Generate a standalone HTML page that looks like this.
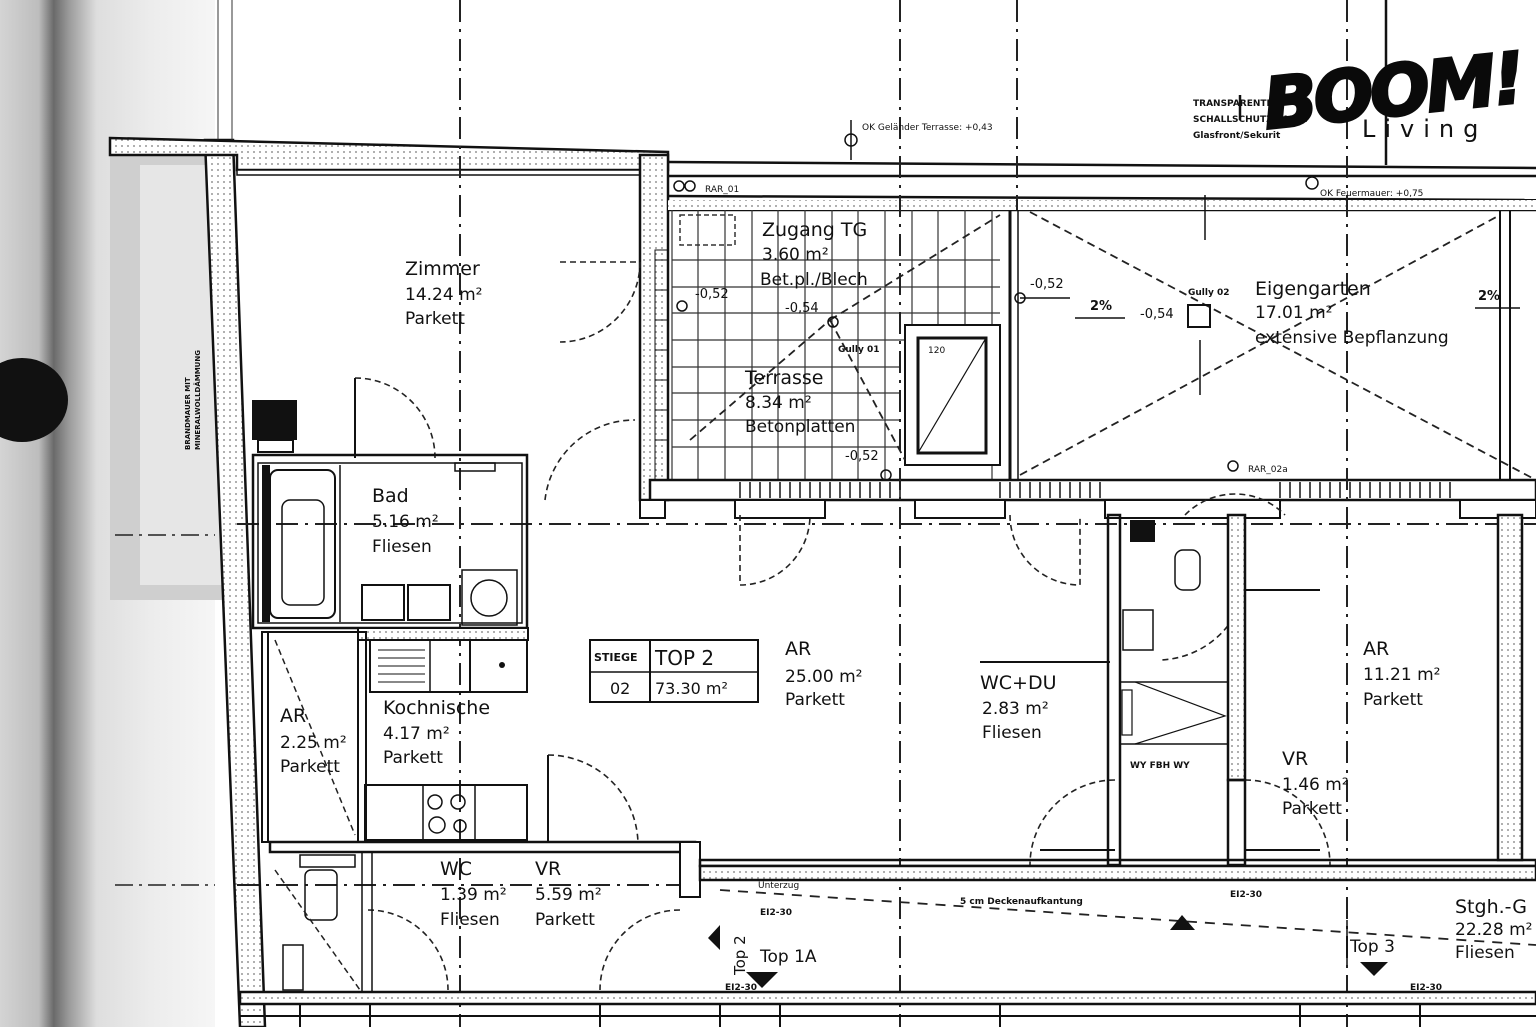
<!DOCTYPE html>
<html><head><meta charset="utf-8"><style>
html,body{margin:0;padding:0;background:#fff;}
svg{display:block}
text{font-family:"DejaVu Sans","Liberation Sans",sans-serif;fill:#111}
</style></head><body>
<svg width="1536" height="1027" viewBox="0 0 1536 1027" xmlns="http://www.w3.org/2000/svg">
<defs>
<linearGradient id="lg" x1="0" x2="1" y1="0" y2="0">
<stop offset="0" stop-color="#d4d4d4"/>
<stop offset="0.18" stop-color="#bdbdbd"/>
<stop offset="0.25" stop-color="#6a6a6a"/>
<stop offset="0.32" stop-color="#9a9a9a"/>
<stop offset="0.45" stop-color="#dedede"/>
<stop offset="0.7" stop-color="#ececec"/>
<stop offset="1" stop-color="#f6f6f6"/>
</linearGradient>
<pattern id="hat" width="6" height="6" patternUnits="userSpaceOnUse"><rect width="6" height="6" fill="#fff"/><circle cx="2" cy="2" r="0.9" fill="#777"/></pattern>
</defs>
<rect x="0" y="0" width="215" height="1027" fill="url(#lg)"/>
<rect x="110" y="140" width="115" height="460" fill="#cfcfcf"/>
<rect x="140" y="165" width="85" height="420" fill="#e6e6e6"/>
<text x="0" y="0" transform="translate(190,450) rotate(-90)" font-size="7" font-weight="bold">BRANDMAUER MIT</text>
<text x="0" y="0" transform="translate(200,450) rotate(-90)" font-size="7" font-weight="bold">MINERALWOLLDÄMMUNG</text>
<ellipse cx="22" cy="400" rx="46" ry="42" fill="#111"/>
<g stroke="#222" stroke-width="1.5" stroke-dasharray="18,6,3,6" fill="none">
<line x1="115" y1="535" x2="215" y2="535"/>
<line x1="115" y1="885" x2="215" y2="885"/>
</g>

<polygon points="205,140 233,140 265,1027 240,1027" fill="url(#hat)" stroke="#111" stroke-width="2.5"/>
<line x1="218" y1="0" x2="218" y2="140" stroke="#333" stroke-width="1"/>
<line x1="232" y1="0" x2="232" y2="140" stroke="#333" stroke-width="1"/>
<polygon points="110,138 668,152 668,170 237,170 237,155 110,155" fill="url(#hat)" stroke="#111" stroke-width="2.5"/>
<rect x="237" y="170" width="408" height="5" fill="#fff" stroke="#111" stroke-width="1.5"/>
<rect x="640" y="155" width="28" height="345" fill="url(#hat)" stroke="#111" stroke-width="2.5"/>
<rect x="655" y="250" width="13" height="230" fill="none" stroke="#111" stroke-width="1"/>
<g stroke="#111" stroke-width="1"><line x1="655" y1="260" x2="668" y2="260"/><line x1="655" y1="290" x2="668" y2="290"/><line x1="655" y1="320" x2="668" y2="320"/><line x1="655" y1="350" x2="668" y2="350"/><line x1="655" y1="380" x2="668" y2="380"/><line x1="655" y1="410" x2="668" y2="410"/><line x1="655" y1="440" x2="668" y2="440"/></g>

<g stroke="#111" stroke-width="2.5" fill="none">
<line x1="668" y1="162" x2="1536" y2="168"/>
<line x1="668" y1="176" x2="1536" y2="176"/>
<line x1="668" y1="196" x2="1536" y2="200"/>
<line x1="668" y1="210" x2="1536" y2="210"/>
<line x1="1386" y1="0" x2="1386" y2="165"/>
<line x1="1240" y1="95" x2="1240" y2="120"/>
</g>
<rect x="668" y="200" width="868" height="10" fill="url(#hat)"/>
<g stroke="#333" stroke-width="1.2">
<line x1="672" y1="210" x2="672" y2="480"/><line x1="698" y1="210" x2="698" y2="480"/><line x1="725" y1="210" x2="725" y2="480"/><line x1="752" y1="210" x2="752" y2="480"/><line x1="778" y1="210" x2="778" y2="480"/><line x1="805" y1="210" x2="805" y2="480"/><line x1="832" y1="210" x2="832" y2="480"/><line x1="858" y1="210" x2="858" y2="480"/><line x1="885" y1="210" x2="885" y2="480"/><line x1="912" y1="210" x2="912" y2="330"/><line x1="938" y1="210" x2="938" y2="330"/><line x1="965" y1="210" x2="965" y2="330"/><line x1="992" y1="210" x2="992" y2="480"/>
<line x1="672" y1="260" x2="1000" y2="260"/><line x1="672" y1="287" x2="1000" y2="287"/><line x1="672" y1="313" x2="1000" y2="313"/><line x1="672" y1="340" x2="1000" y2="340"/><line x1="672" y1="367" x2="900" y2="367"/><line x1="672" y1="393" x2="900" y2="393"/><line x1="672" y1="420" x2="900" y2="420"/><line x1="672" y1="447" x2="900" y2="447"/>
</g>
<rect x="905" y="325" width="95" height="140" fill="#fff" stroke="#111" stroke-width="2"/>
<rect x="918" y="338" width="68" height="115" fill="none" stroke="#111" stroke-width="3"/>
<line x1="918" y1="453" x2="986" y2="338" stroke="#111" stroke-width="1.2"/>
<text x="928" y="353" font-size="9">120</text>
<rect x="680" y="215" width="55" height="30" fill="none" stroke="#333" stroke-width="1.5" stroke-dasharray="5,3"/>
<line x1="1010" y1="210" x2="1010" y2="480" stroke="#111" stroke-width="3"/>
<line x1="1018" y1="210" x2="1018" y2="480" stroke="#111" stroke-width="1.5"/>
<line x1="1500" y1="210" x2="1500" y2="480" stroke="#111" stroke-width="2"/>
<line x1="1510" y1="210" x2="1510" y2="480" stroke="#111" stroke-width="2"/>
<g stroke="#222" stroke-width="1.8" stroke-dasharray="8,5" fill="none">
<line x1="1030" y1="212" x2="1536" y2="480"/>
<line x1="1020" y1="475" x2="1500" y2="215"/>
<line x1="690" y1="440" x2="830" y2="320"/>
<line x1="830" y1="320" x2="1000" y2="215"/>
<line x1="830" y1="320" x2="905" y2="460"/>
</g>
<rect x="1188" y="305" width="22" height="22" fill="none" stroke="#111" stroke-width="2"/>
<g stroke="#111" stroke-width="1.5" fill="none">
<line x1="1075" y1="318" x2="1125" y2="318"/><line x1="1475" y1="308" x2="1520" y2="308"/>
<line x1="1200" y1="340" x2="1200" y2="395"/><line x1="1205" y1="195" x2="1205" y2="240"/>
<line x1="1020" y1="298" x2="1070" y2="298"/>
<circle cx="1020" cy="298" r="5"/><circle cx="1312" cy="183" r="6"/><circle cx="851" cy="140" r="6"/><circle cx="682" cy="306" r="5"/><circle cx="833" cy="322" r="5"/><circle cx="886" cy="475" r="5"/><circle cx="1233" cy="466" r="5"/><circle cx="679" cy="186" r="5"/><circle cx="690" cy="186" r="5"/>
<line x1="851" y1="120" x2="851" y2="160"/>
</g>
<rect x="650" y="480" width="886" height="20" fill="#fff" stroke="#111" stroke-width="2.5"/>
<g stroke="#111" stroke-width="1.5">
<line x1="740" y1="482" x2="740" y2="498"/><line x1="750" y1="482" x2="750" y2="498"/><line x1="760" y1="482" x2="760" y2="498"/><line x1="770" y1="482" x2="770" y2="498"/><line x1="780" y1="482" x2="780" y2="498"/><line x1="790" y1="482" x2="790" y2="498"/><line x1="800" y1="482" x2="800" y2="498"/><line x1="810" y1="482" x2="810" y2="498"/><line x1="820" y1="482" x2="820" y2="498"/><line x1="830" y1="482" x2="830" y2="498"/><line x1="840" y1="482" x2="840" y2="498"/><line x1="850" y1="482" x2="850" y2="498"/><line x1="860" y1="482" x2="860" y2="498"/><line x1="870" y1="482" x2="870" y2="498"/><line x1="880" y1="482" x2="880" y2="498"/><line x1="890" y1="482" x2="890" y2="498"/><line x1="900" y1="482" x2="900" y2="498"/>
<line x1="1000" y1="482" x2="1000" y2="498"/><line x1="1010" y1="482" x2="1010" y2="498"/><line x1="1020" y1="482" x2="1020" y2="498"/><line x1="1030" y1="482" x2="1030" y2="498"/><line x1="1040" y1="482" x2="1040" y2="498"/><line x1="1050" y1="482" x2="1050" y2="498"/><line x1="1060" y1="482" x2="1060" y2="498"/><line x1="1070" y1="482" x2="1070" y2="498"/><line x1="1080" y1="482" x2="1080" y2="498"/><line x1="1090" y1="482" x2="1090" y2="498"/><line x1="1100" y1="482" x2="1100" y2="498"/>
<line x1="1280" y1="482" x2="1280" y2="498"/><line x1="1290" y1="482" x2="1290" y2="498"/><line x1="1300" y1="482" x2="1300" y2="498"/><line x1="1310" y1="482" x2="1310" y2="498"/><line x1="1320" y1="482" x2="1320" y2="498"/><line x1="1330" y1="482" x2="1330" y2="498"/><line x1="1340" y1="482" x2="1340" y2="498"/><line x1="1350" y1="482" x2="1350" y2="498"/><line x1="1360" y1="482" x2="1360" y2="498"/><line x1="1370" y1="482" x2="1370" y2="498"/><line x1="1380" y1="482" x2="1380" y2="498"/><line x1="1390" y1="482" x2="1390" y2="498"/><line x1="1400" y1="482" x2="1400" y2="498"/><line x1="1410" y1="482" x2="1410" y2="498"/><line x1="1420" y1="482" x2="1420" y2="498"/><line x1="1430" y1="482" x2="1430" y2="498"/><line x1="1440" y1="482" x2="1440" y2="498"/><line x1="1450" y1="482" x2="1450" y2="498"/>
</g>
<g fill="#fff" stroke="#111" stroke-width="2">
<rect x="640" y="500" width="25" height="18"/>
<rect x="735" y="500" width="90" height="18"/><rect x="915" y="500" width="90" height="18"/><rect x="1105" y="500" width="175" height="18"/><rect x="1460" y="500" width="76" height="18"/>
</g>
<g stroke="#222" stroke-width="2" stroke-dasharray="22,7,3,7" fill="none">
<line x1="460" y1="0" x2="460" y2="1027"/>
<line x1="900" y1="0" x2="900" y2="1027"/>
<line x1="1017" y1="0" x2="1017" y2="210"/>
<line x1="1347" y1="0" x2="1347" y2="1027"/>
<line x1="237" y1="524" x2="1536" y2="524"/>
<line x1="237" y1="885" x2="700" y2="885"/>
</g>
<g stroke="#222" stroke-width="1.6" fill="none" stroke-dasharray="6,4">
<path d="M560,262 L640,262 A80,80 0 0 1 560,342"/>
<path d="M355,378 A80,80 0 0 1 435,458"/>
<path d="M545,500 A90,90 0 0 1 635,420"/>
<path d="M740,515 L740,585 A70,70 0 0 0 810,515"/>
<path d="M1010,515 A70,70 0 0 0 1080,585 L1080,515"/>
<path d="M1245,590 A90,90 0 0 1 1160,660"/>
<path d="M1185,515 A70,70 0 0 1 1285,515"/>
<path d="M548,755 A90,90 0 0 1 638,845"/>
<path d="M368,910 A80,80 0 0 1 448,990"/>
<path d="M680,910 A80,80 0 0 0 600,990"/>
<path d="M1115,780 A85,85 0 0 0 1030,865"/>
<path d="M1245,780 A85,85 0 0 1 1330,865"/>
</g>
<g stroke="#111" stroke-width="2"><line x1="355" y1="378" x2="355" y2="458"/><line x1="548" y1="755" x2="548" y2="845"/><line x1="1040" y1="850" x2="1115" y2="850"/><line x1="1245" y1="850" x2="1320" y2="850"/><line x1="1245" y1="590" x2="1320" y2="590"/></g>

<rect x="252" y="400" width="45" height="40" fill="#111"/>
<rect x="258" y="440" width="35" height="12" fill="#fff" stroke="#111" stroke-width="2"/>
<rect x="253" y="455" width="274" height="173" fill="none" stroke="#111" stroke-width="2.5"/>
<rect x="258" y="463" width="264" height="160" fill="none" stroke="#111" stroke-width="1.5"/>
<rect x="262" y="465" width="8" height="157" fill="#111"/>
<rect x="270" y="470" width="65" height="148" rx="8" fill="none" stroke="#111" stroke-width="2"/>
<rect x="282" y="500" width="42" height="105" rx="8" fill="none" stroke="#111" stroke-width="1.5"/>
<line x1="340" y1="465" x2="340" y2="622" stroke="#111" stroke-width="1.5"/>
<rect x="362" y="585" width="42" height="35" fill="none" stroke="#111" stroke-width="2"/>
<rect x="408" y="585" width="42" height="35" fill="none" stroke="#111" stroke-width="2"/>
<rect x="462" y="570" width="55" height="55" fill="none" stroke="#111" stroke-width="1.5"/>
<circle cx="489" cy="598" r="18" fill="none" stroke="#111" stroke-width="1.5"/>
<rect x="455" y="463" width="40" height="8" fill="none" stroke="#111" stroke-width="1.5"/>
<rect x="358" y="628" width="170" height="12" fill="url(#hat)" stroke="#111" stroke-width="2"/>
<rect x="370" y="640" width="100" height="52" fill="none" stroke="#111" stroke-width="2"/>
<line x1="430" y1="640" x2="430" y2="692" stroke="#111" stroke-width="1.5"/>
<rect x="470" y="640" width="57" height="52" fill="none" stroke="#111" stroke-width="2"/>
<g stroke="#111" stroke-width="1"><line x1="378" y1="650" x2="425" y2="650"/><line x1="378" y1="658" x2="425" y2="658"/><line x1="378" y1="666" x2="425" y2="666"/><line x1="378" y1="674" x2="425" y2="674"/><line x1="378" y1="682" x2="425" y2="682"/></g>
<circle cx="502" cy="665" r="3" fill="#111"/>
<rect x="365" y="785" width="162" height="55" fill="none" stroke="#111" stroke-width="2"/>
<line x1="423" y1="785" x2="423" y2="840" stroke="#111" stroke-width="1.5"/><line x1="475" y1="785" x2="475" y2="840" stroke="#111" stroke-width="1.5"/>
<circle cx="435" cy="802" r="7" fill="none" stroke="#111" stroke-width="1.5"/><circle cx="458" cy="802" r="7" fill="none" stroke="#111" stroke-width="1.5"/><circle cx="437" cy="825" r="8" fill="none" stroke="#111" stroke-width="1.5"/><circle cx="460" cy="826" r="6" fill="none" stroke="#111" stroke-width="1.5"/>
<rect x="262" y="632" width="6" height="210" fill="none" stroke="#111" stroke-width="2"/>
<line x1="268" y1="632" x2="358" y2="632" stroke="#111" stroke-width="2"/>
<rect x="358" y="632" width="8" height="210" fill="none" stroke="#111" stroke-width="2"/>
<line x1="275" y1="640" x2="355" y2="835" stroke="#222" stroke-width="1.5" stroke-dasharray="6,4"/>
<rect x="270" y="842" width="425" height="10" fill="#fff" stroke="#111" stroke-width="2.5"/>
<rect x="680" y="842" width="20" height="55" fill="#fff" stroke="#111" stroke-width="2"/>
<rect x="362" y="852" width="10" height="150" fill="none" stroke="#111" stroke-width="1.5"/>
<rect x="300" y="855" width="55" height="12" fill="none" stroke="#111" stroke-width="1.5"/>
<rect x="305" y="870" width="32" height="50" rx="6" fill="none" stroke="#111" stroke-width="1.5"/>
<rect x="283" y="945" width="20" height="45" fill="none" stroke="#111" stroke-width="1.5"/>
<line x1="275" y1="870" x2="360" y2="990" stroke="#222" stroke-width="1.5" stroke-dasharray="6,4"/>
<rect x="700" y="860" width="836" height="6" fill="none" stroke="#111" stroke-width="2.5"/>
<rect x="700" y="866" width="836" height="14" fill="url(#hat)" stroke="#111" stroke-width="2.5"/>
<rect x="1108" y="515" width="12" height="350" fill="none" stroke="#111" stroke-width="2.5"/>
<rect x="1228" y="515" width="17" height="265" fill="url(#hat)" stroke="#111" stroke-width="2.5"/>
<rect x="1228" y="780" width="17" height="85" fill="none" stroke="#111" stroke-width="2.5"/>
<rect x="1130" y="520" width="25" height="22" fill="#111"/>
<rect x="1175" y="550" width="25" height="40" rx="8" fill="none" stroke="#111" stroke-width="1.5"/>
<rect x="1123" y="610" width="30" height="40" fill="none" stroke="#111" stroke-width="1.5"/>
<rect x="1120" y="682" width="108" height="62" fill="none" stroke="#111" stroke-width="1.5"/>
<polyline points="1135,682 1225,716 1135,744" fill="none" stroke="#111" stroke-width="1.2"/>
<rect x="1122" y="690" width="10" height="45" fill="none" stroke="#111" stroke-width="1.2"/>
<line x1="980" y1="662" x2="1110" y2="662" stroke="#111" stroke-width="2"/>
<text x="1130" y="768" font-size="9" font-weight="bold">WY   FBH   WY</text>
<rect x="1498" y="515" width="24" height="345" fill="url(#hat)" stroke="#111" stroke-width="2.5"/>
<rect x="240" y="992" width="1296" height="12" fill="url(#hat)" stroke="#111" stroke-width="2.5"/>
<line x1="240" y1="1016" x2="1536" y2="1016" stroke="#111" stroke-width="2"/>
<g stroke="#111" stroke-width="2"><line x1="300" y1="1004" x2="300" y2="1027"/><line x1="370" y1="1004" x2="370" y2="1027"/><line x1="600" y1="1004" x2="600" y2="1027"/><line x1="720" y1="1004" x2="720" y2="1027"/><line x1="780" y1="1004" x2="780" y2="1027"/><line x1="1000" y1="1004" x2="1000" y2="1027"/><line x1="1300" y1="1004" x2="1300" y2="1027"/><line x1="1420" y1="1004" x2="1420" y2="1027"/></g>
<line x1="720" y1="890" x2="1536" y2="945" stroke="#222" stroke-width="1.8" stroke-dasharray="10,8"/>
<polygon points="1170,930 1182,915 1195,930" fill="#111"/>
<polygon points="746,972 762,988 778,972" fill="#111"/>
<polygon points="1360,962 1374,976 1388,962" fill="#111"/>
<polygon points="720,925 708,938 720,950" fill="#111"/>
<line x1="1347" y1="920" x2="1347" y2="965" stroke="#111" stroke-width="1.5"/>

<rect x="590" y="640" width="168" height="62" fill="none" stroke="#111" stroke-width="2"/>
<line x1="650" y1="640" x2="650" y2="702" stroke="#111" stroke-width="2"/>
<line x1="590" y1="672" x2="758" y2="672" stroke="#111" stroke-width="1.5"/>
<text x="594" y="661" font-size="11" font-weight="bold">STIEGE</text>
<text x="655" y="665" font-size="20">TOP 2</text>
<text x="610" y="694" font-size="16">02</text>
<text x="655" y="694" font-size="16">73.30 m²</text>

<g font-size="19">
<text x="405" y="275">Zimmer</text><text x="405" y="300" font-size="17">14.24 m²</text><text x="405" y="324" font-size="17">Parkett</text>
<text x="762" y="236">Zugang TG</text><text x="762" y="260" font-size="17">3.60 m²</text><text x="760" y="285" font-size="17">Bet.pl./Blech</text>
<text x="745" y="384">Terrasse</text><text x="745" y="408" font-size="17">8.34 m²</text><text x="745" y="432" font-size="17">Betonplatten</text>
<text x="1255" y="295">Eigengarten</text><text x="1255" y="318" font-size="17">17.01 m²</text><text x="1255" y="343" font-size="17">extensive Bepflanzung</text>
<text x="372" y="502">Bad</text><text x="372" y="527" font-size="17">5.16 m²</text><text x="372" y="552" font-size="17">Fliesen</text>
<text x="785" y="655">AR</text><text x="785" y="682" font-size="17">25.00 m²</text><text x="785" y="705" font-size="17">Parkett</text>
<text x="980" y="689">WC+DU</text><text x="982" y="714" font-size="17">2.83 m²</text><text x="982" y="738" font-size="17">Fliesen</text>
<text x="1363" y="655">AR</text><text x="1363" y="680" font-size="17">11.21 m²</text><text x="1363" y="705" font-size="17">Parkett</text>
<text x="1282" y="765">VR</text><text x="1282" y="790" font-size="17">1.46 m²</text><text x="1282" y="814" font-size="17">Parkett</text>
<text x="280" y="722">AR</text><text x="280" y="748" font-size="17">2.25 m²</text><text x="280" y="772" font-size="17">Parkett</text>
<text x="383" y="714">Kochnische</text><text x="383" y="739" font-size="17">4.17 m²</text><text x="383" y="763" font-size="17">Parkett</text>
<text x="440" y="875">WC</text><text x="440" y="900" font-size="17">1.39 m²</text><text x="440" y="925" font-size="17">Fliesen</text>
<text x="535" y="875">VR</text><text x="535" y="900" font-size="17">5.59 m²</text><text x="535" y="925" font-size="17">Parkett</text>
<text x="1455" y="913">Stgh.-G</text><text x="1455" y="935" font-size="17">22.28 m²</text><text x="1455" y="958" font-size="17">Fliesen</text>
<text x="760" y="962" font-size="17">Top 1A</text>
<text x="1350" y="952" font-size="17">Top 3</text>
</g>
<text x="0" y="0" transform="translate(745,975) rotate(-90)" font-size="15">Top 2</text>
<g font-size="13">
<text x="695" y="298">-0,52</text><text x="785" y="312">-0,54</text><text x="845" y="460">-0,52</text>
<text x="1030" y="288">-0,52</text><text x="1140" y="318">-0,54</text>
<text x="1090" y="310" font-weight="bold">2%</text><text x="1478" y="300" font-weight="bold">2%</text>
</g>
<g font-size="9">
<text x="705" y="192">RAR_01</text><text x="1248" y="472">RAR_02a</text>
<text x="1188" y="295" font-weight="bold">Gully 02</text><text x="838" y="352" font-weight="bold">Gully 01</text>
<text x="862" y="130" fill="#444">OK Geländer Terrasse: +0,43</text>
<text x="1320" y="196" fill="#444">OK Feuermauer: +0,75</text>
<text x="1193" y="106" font-weight="bold">TRANSPARENTE</text>
<text x="1193" y="122" font-weight="bold">SCHALLSCHUTZWAND:</text>
<text x="1193" y="138" font-weight="bold">Glasfront/Sekurit</text>
<text x="960" y="904" font-weight="bold">5 cm Deckenaufkantung</text>
<text x="758" y="888">Unterzug</text><text x="760" y="915" font-weight="bold">EI2-30</text>
<text x="1230" y="897" font-weight="bold">EI2-30</text><text x="1410" y="990" font-weight="bold">EI2-30</text><text x="725" y="990" font-weight="bold">EI2-30</text>
</g>

<text x="1262" y="116" font-family="Liberation Sans, sans-serif" font-size="70" font-weight="bold" font-style="italic" transform="rotate(-6 1385 80)" style="fill:#0a0a0a;letter-spacing:-3px" stroke="#0a0a0a" stroke-width="3">BOOM!</text>
<text x="1362" y="137" font-family="Liberation Sans, sans-serif" font-size="24" style="fill:#111;letter-spacing:9px">Living</text>
</svg>
</body></html>
